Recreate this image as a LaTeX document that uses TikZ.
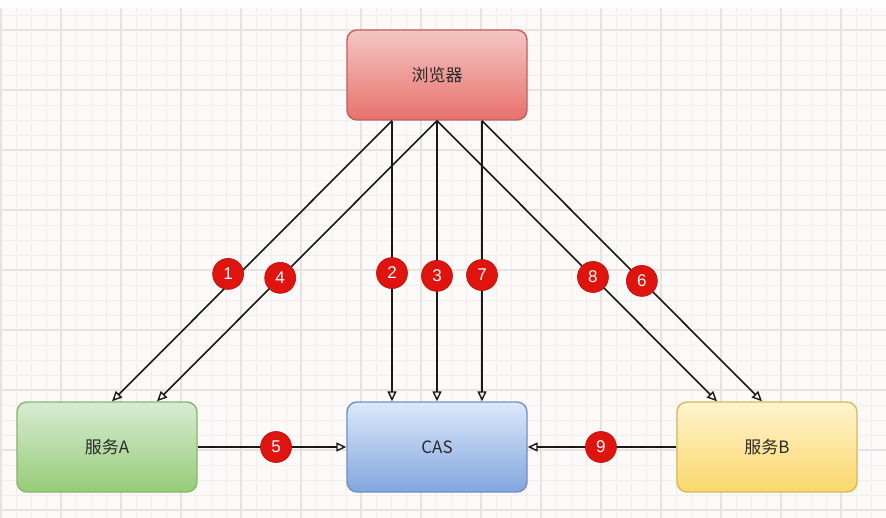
\documentclass[tikz,border=0pt]{standalone}
\usepackage{fontspec}
\setmainfont{Liberation Sans}
\newfontfamily\cjk{Noto Sans CJK SC}
\usetikzlibrary{arrows.meta}
\definecolor{bgc}{HTML}{FCFAF8}
\definecolor{gminor}{HTML}{F1EEEB}
\definecolor{gmajor}{HTML}{E6E3E0}
\definecolor{redT}{HTML}{F4C6C4}
\definecolor{redB}{HTML}{E8716C}
\definecolor{redS}{HTML}{C0605C}
\definecolor{grnT}{HTML}{D8EBD2}
\definecolor{grnB}{HTML}{96CC78}
\definecolor{grnS}{HTML}{86B86A}
\definecolor{bluT}{HTML}{DCE8FA}
\definecolor{bluB}{HTML}{82A6DE}
\definecolor{bluS}{HTML}{7090C4}
\definecolor{yelT}{HTML}{FFF3CF}
\definecolor{yelB}{HTML}{F9D86A}
\definecolor{yelS}{HTML}{D8B858}
\definecolor{badgeR}{HTML}{E0140F}
\definecolor{badgeS}{HTML}{B80E0A}
\definecolor{txt}{HTML}{2A2A2A}
\tikzset{
  box/.style={draw, line width=1.4pt, rounded corners=10pt, minimum width=180pt,
    minimum height=90pt, inner sep=0pt, text=txt,
    font=\cjk\fontsize{17}{20}\selectfont},
  redbox/.style={box, draw=redS, top color=redT, bottom color=redB},
  grnbox/.style={box, draw=grnS, top color=grnT, bottom color=grnB},
  blubox/.style={box, draw=bluS, top color=bluT, bottom color=bluB},
  yelbox/.style={box, draw=yelS, top color=yelT, bottom color=yelB},
  conn/.style={draw=black!90, line width=1.6pt,
    -{Triangle[open, length=10pt, width=9pt, line width=1.4pt]}},
  badge/.style={circle, fill=badgeR, draw=badgeS, line width=0.6pt,
    minimum size=31pt, inner sep=0pt, text=white,
    font=\fontsize{17}{17}\selectfont},
  minorg/.style={draw=gminor, line width=0.7pt},
  majorg/.style={draw=gmajor, line width=1.1pt}
}
\begin{document}
\begin{tikzpicture}[x=1pt, y=-1pt]
\useasboundingbox (0,0) rectangle (886,518);
\fill[bgc] (0,0) rectangle (886,518);
\fill[white] (0,0) rectangle (886,8);
% grid
\foreach \x in {1,16,...,886} \draw[minorg] (\x,8) -- (\x,518);
\foreach \y in {15,30,...,518} \draw[minorg] (0,\y) -- (886,\y);
\foreach \x in {1,61,...,886} \draw[majorg] (\x,8) -- (\x,518);
\foreach \y in {30,90,...,518} \draw[majorg] (0,\y) -- (886,\y);

% boxes
\node[redbox] (br) at (437,75) {浏览器};
\node[grnbox] (sa) at (107,447) {服务A};
\node[blubox] (cas) at (437,447) {CAS};
\node[yelbox] (sb) at (767,447) {服务B};

% anchor points
\coordinate (bL) at ([xshift=-45pt]br.south);
\coordinate (bM) at (br.south);
\coordinate (bR) at ([xshift=45pt]br.south);
\coordinate (aL) at ([xshift=5pt]sa.north);
\coordinate (aR) at ([xshift=50pt]sa.north);
\coordinate (cL) at ([xshift=-45pt]cas.north);
\coordinate (cM) at (cas.north);
\coordinate (cR) at ([xshift=45pt]cas.north);
\coordinate (sbL) at ([xshift=-50pt]sb.north);
\coordinate (sbR) at ([xshift=-5pt]sb.north);

% connectors
\draw[conn] (bL) -- node[badge, pos=0.546, xshift=-11pt] {1} (aL);
\draw[conn] (bM) -- node[badge, pos=0.56] {4} (aR);
\draw[conn] (bL) -- node[badge, pos=0.543] {2} (cL);
\draw[conn] (bM) -- node[badge, pos=0.553] {3} (cM);
\draw[conn] (bR) -- node[badge, pos=0.55] {7} (cR);
\draw[conn] (bM) -- node[badge, pos=0.557] {8} (sbL);
\draw[conn] (bR) -- node[badge, pos=0.571] {6} (sbR);
\draw[conn] (sa.east) -- node[badge, pos=0.527] {5} (cas.west);
\draw[conn] (sb.west) -- node[badge, pos=0.507] {9} (cas.east);
\end{tikzpicture}
\end{document}
